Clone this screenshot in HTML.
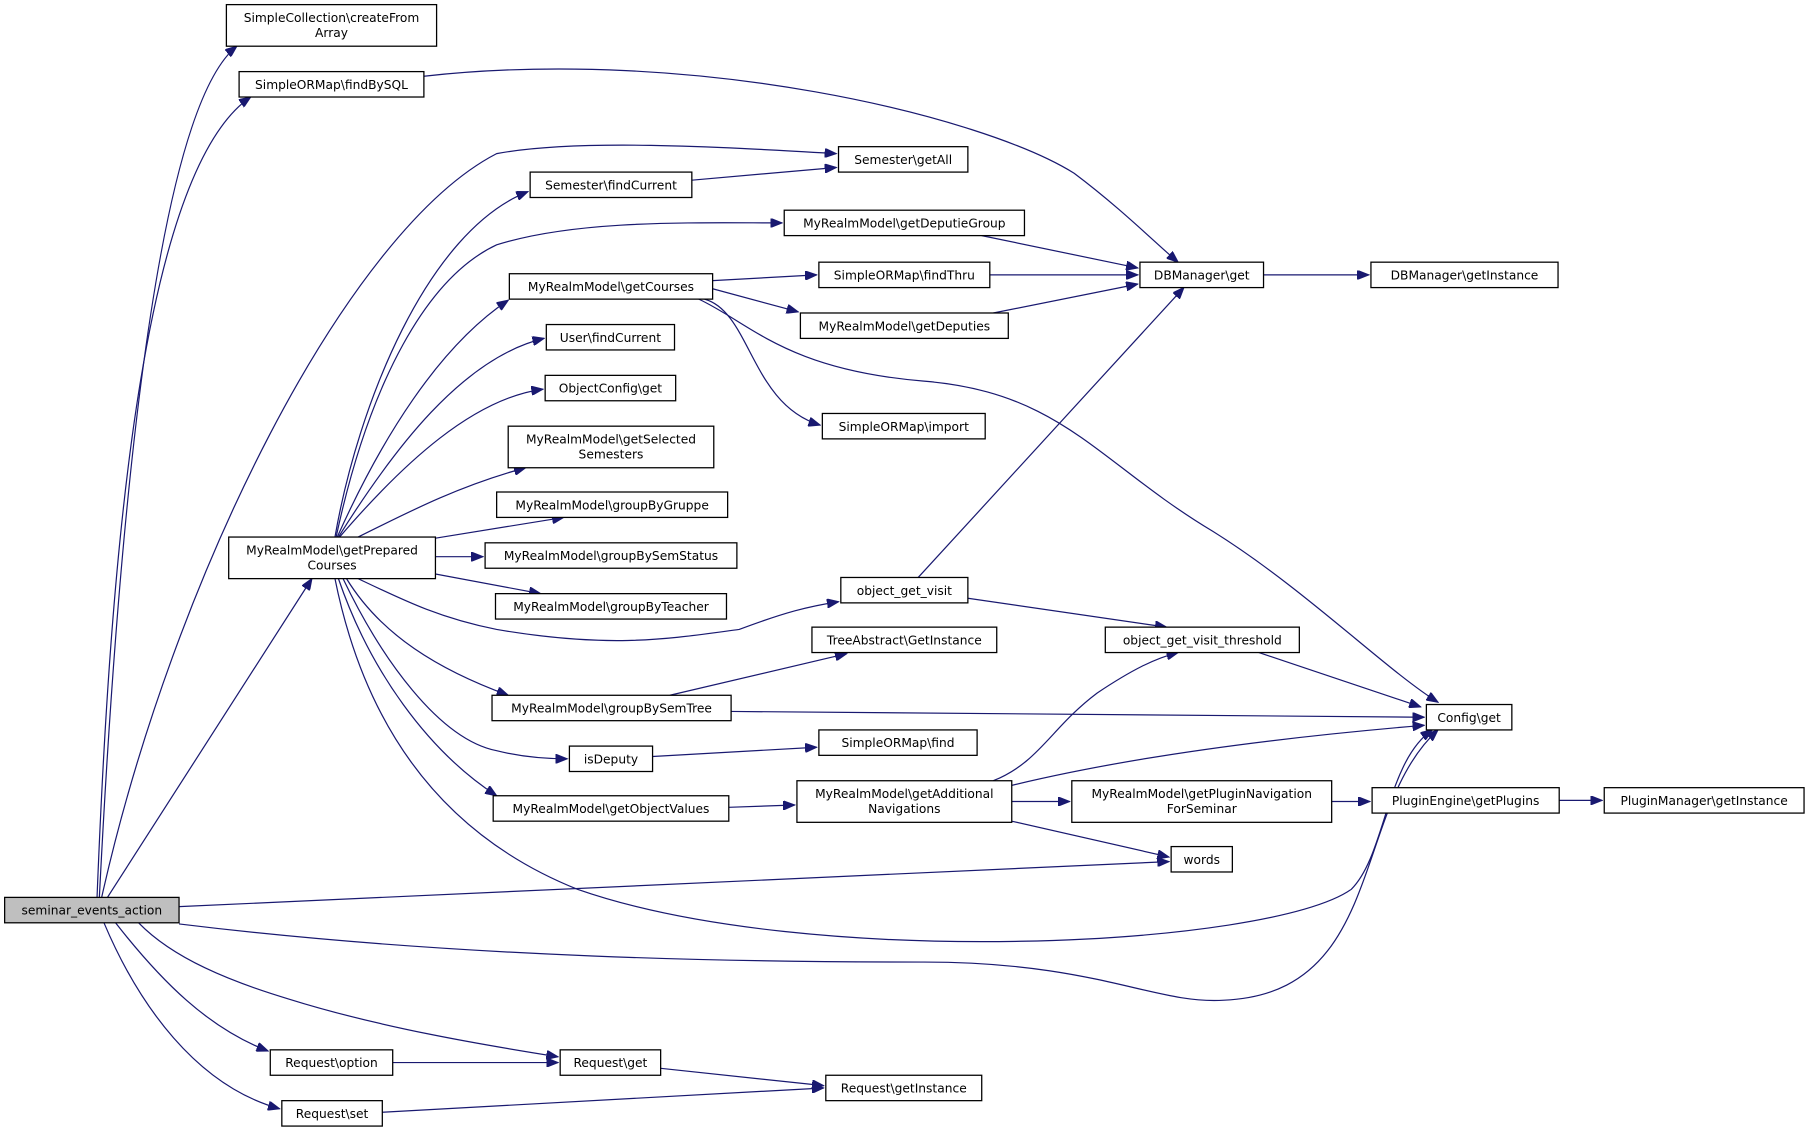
<!DOCTYPE html>
<html><head><meta charset="utf-8"><style>
html,body{margin:0;padding:0;background:#fff;}
svg{display:block;}
text{font-family:"DejaVu Sans","Liberation Sans",sans-serif;font-size:10.6px;fill:#000;text-anchor:middle;}
.n{fill:#fff;stroke:#000;stroke-width:1.1;}
.e{fill:none;stroke:#191970;stroke-width:1.05;}
</style></head><body>
<svg width="1811" height="1133" viewBox="0 0 1568 981" xmlns="http://www.w3.org/2000/svg">
<defs><marker id="a" markerWidth="11" markerHeight="8" refX="10" refY="4" orient="auto" markerUnits="userSpaceOnUse"><path d="M0,0 L10,4 L0,8 z" fill="#191970" stroke="#191970"/></marker></defs>
<g marker-end="url(#a)">
<path class="e" d="M86,777 C100,500 130,100 205,40"/>
<path class="e" d="M84,777 C95,500 120,150 217,84"/>
<path class="e" d="M88,777 C150,500 300,200 430,133 C500,120 620,127 724,133"/>
<path class="e" d="M93,777 L270,501"/>
<path class="e" d="M155,785 L1012,746"/>
<path class="e" d="M155,800 C400,830 650,833 800,833 C950,833 1000,870 1060,866 C1200,860 1170,700 1245,632"/>
<path class="e" d="M120,799 C150,830 200,850 250,865 C330,890 420,905 483,915"/>
<path class="e" d="M100,799 C140,850 180,890 232,910"/>
<path class="e" d="M90,799 C120,870 170,940 242,960"/>
<path class="e" d="M290,465 C310,350 370,200 457,166"/>
<path class="e" d="M291,465 C320,330 370,240 430,212 C500,190 600,193 677,193"/>
<path class="e" d="M292,465 C330,380 380,300 440,260"/>
<path class="e" d="M293,465 C340,390 400,310 471,293"/>
<path class="e" d="M294,465 C350,400 410,345 470,337"/>
<path class="e" d="M310,465 C360,440 400,420 455,405"/>
<path class="e" d="M377,466 L488,448"/>
<path class="e" d="M377,482 L418,482"/>
<path class="e" d="M377,497 L468,514"/>
<path class="e" d="M310,501 C350,520 380,535 430,545 C530,562 580,553 640,545 C680,530 700,525 726,521"/>
<path class="e" d="M300,501 C330,550 380,580 440,602"/>
<path class="e" d="M297,501 C330,570 380,640 430,650 C450,655 470,657 491,657"/>
<path class="e" d="M293,501 C320,580 370,650 430,689"/>
<path class="e" d="M290,501 C320,650 400,730 500,770 C700,840 1100,820 1170,770 C1200,740 1200,660 1240,632"/>
<path class="e" d="M617,243 L707,238"/>
<path class="e" d="M617,250 L691,270"/>
<path class="e" d="M610,259 C650,270 650,350 710,368"/>
<path class="e" d="M605,259 C650,280 680,320 800,330 C920,340 950,400 1050,460 C1130,510 1200,580 1245,608"/>
<path class="e" d="M599,156 L724,145"/>
<path class="e" d="M850,204 L985,232"/>
<path class="e" d="M857,238 L985,238"/>
<path class="e" d="M860,271 L985,246"/>
<path class="e" d="M367,66 C600,40 850,100 930,150 C970,180 1000,210 1020,227"/>
<path class="e" d="M1094,238 L1185,238"/>
<path class="e" d="M795,500 L1025,249"/>
<path class="e" d="M838,518 L1010,543"/>
<path class="e" d="M1090,565 L1230,612"/>
<path class="e" d="M580,602 L733,566"/>
<path class="e" d="M633,616 L1233,621"/>
<path class="e" d="M565,655 L707,647"/>
<path class="e" d="M631,699 L688,697"/>
<path class="e" d="M860,676 C900,660 910,630 950,600 C980,580 1000,570 1020,565"/>
<path class="e" d="M876,680 C1000,650 1150,635 1233,628"/>
<path class="e" d="M876,694 L926,694"/>
<path class="e" d="M876,711 L1012,742"/>
<path class="e" d="M1153,694 L1186,694"/>
<path class="e" d="M1350,693 L1387,693"/>
<path class="e" d="M340,920 L483,920"/>
<path class="e" d="M572,925 L713,940"/>
<path class="e" d="M331,963 L713,942"/>
</g>
<rect x="4" y="777" width="151" height="22" fill="#bfbfbf" stroke="#000" stroke-width="1.1"/><text x="79.5" y="792">seminar_events_action</text>
<rect class="n" x="196" y="4" width="182" height="36"/><text x="287" y="19">SimpleCollection\createFrom</text><text x="287" y="32">Array</text>
<rect class="n" x="207" y="62" width="160" height="22"/><text x="287" y="77">SimpleORMap\findBySQL</text>
<rect class="n" x="726" y="127" width="112" height="22"/><text x="782" y="142">Semester\getAll</text>
<rect class="n" x="459" y="149" width="140" height="22"/><text x="529" y="164">Semester\findCurrent</text>
<rect class="n" x="679" y="182" width="208" height="22"/><text x="783" y="197">MyRealmModel\getDeputieGroup</text>
<rect class="n" x="441" y="237" width="176" height="22"/><text x="529" y="252">MyRealmModel\getCourses</text>
<rect class="n" x="709" y="227" width="148" height="22"/><text x="783" y="242">SimpleORMap\findThru</text>
<rect class="n" x="987" y="227" width="107" height="22"/><text x="1040.5" y="242">DBManager\get</text>
<rect class="n" x="1187" y="227" width="162" height="22"/><text x="1268" y="242">DBManager\getInstance</text>
<rect class="n" x="693" y="271" width="180" height="22"/><text x="783" y="286">MyRealmModel\getDeputies</text>
<rect class="n" x="473" y="281" width="111" height="22"/><text x="528.5" y="296">User\findCurrent</text>
<rect class="n" x="472" y="325" width="113" height="22"/><text x="528.5" y="340">ObjectConfig\get</text>
<rect class="n" x="712" y="358" width="141" height="22"/><text x="782.5" y="373">SimpleORMap\import</text>
<rect class="n" x="440" y="369" width="178" height="36"/><text x="529" y="384">MyRealmModel\getSelected</text><text x="529" y="397">Semesters</text>
<rect class="n" x="198" y="465" width="179" height="36"/><text x="287.5" y="480">MyRealmModel\getPrepared</text><text x="287.5" y="493">Courses</text>
<rect class="n" x="430" y="426" width="200" height="22"/><text x="530" y="441">MyRealmModel\groupByGruppe</text>
<rect class="n" x="420" y="470" width="218" height="22"/><text x="529" y="485">MyRealmModel\groupBySemStatus</text>
<rect class="n" x="429" y="514" width="200" height="22"/><text x="529" y="529">MyRealmModel\groupByTeacher</text>
<rect class="n" x="728" y="500" width="110" height="22"/><text x="783" y="515">object_get_visit</text>
<rect class="n" x="703" y="543" width="160" height="22"/><text x="783" y="558">TreeAbstract\GetInstance</text>
<rect class="n" x="957" y="543" width="168" height="22"/><text x="1041" y="558">object_get_visit_threshold</text>
<rect class="n" x="426" y="602" width="207" height="22"/><text x="529.5" y="617">MyRealmModel\groupBySemTree</text>
<rect class="n" x="1235" y="610" width="74" height="22"/><text x="1272" y="625">Config\get</text>
<rect class="n" x="709" y="632" width="137" height="22"/><text x="777.5" y="647">SimpleORMap\find</text>
<rect class="n" x="493" y="646" width="72" height="22"/><text x="529" y="661">isDeputy</text>
<rect class="n" x="690" y="676" width="186" height="36"/><text x="783" y="691">MyRealmModel\getAdditional</text><text x="783" y="704">Navigations</text>
<rect class="n" x="427" y="689" width="204" height="22"/><text x="529" y="704">MyRealmModel\getObjectValues</text>
<rect class="n" x="928" y="676" width="225" height="36"/><text x="1040.5" y="691">MyRealmModel\getPluginNavigation</text><text x="1040.5" y="704">ForSeminar</text>
<rect class="n" x="1188" y="682" width="162" height="22"/><text x="1269" y="697">PluginEngine\getPlugins</text>
<rect class="n" x="1389" y="682" width="173" height="22"/><text x="1475.5" y="697">PluginManager\getInstance</text>
<rect class="n" x="1014" y="733" width="53" height="22"/><text x="1040.5" y="748">words</text>
<rect class="n" x="234" y="909" width="106" height="22"/><text x="287" y="924">Request\option</text>
<rect class="n" x="485" y="909" width="87" height="22"/><text x="528.5" y="924">Request\get</text>
<rect class="n" x="715" y="931" width="135" height="22"/><text x="782.5" y="946">Request\getInstance</text>
<rect class="n" x="244" y="953" width="87" height="22"/><text x="287.5" y="968">Request\set</text>
</svg>
</body></html>
